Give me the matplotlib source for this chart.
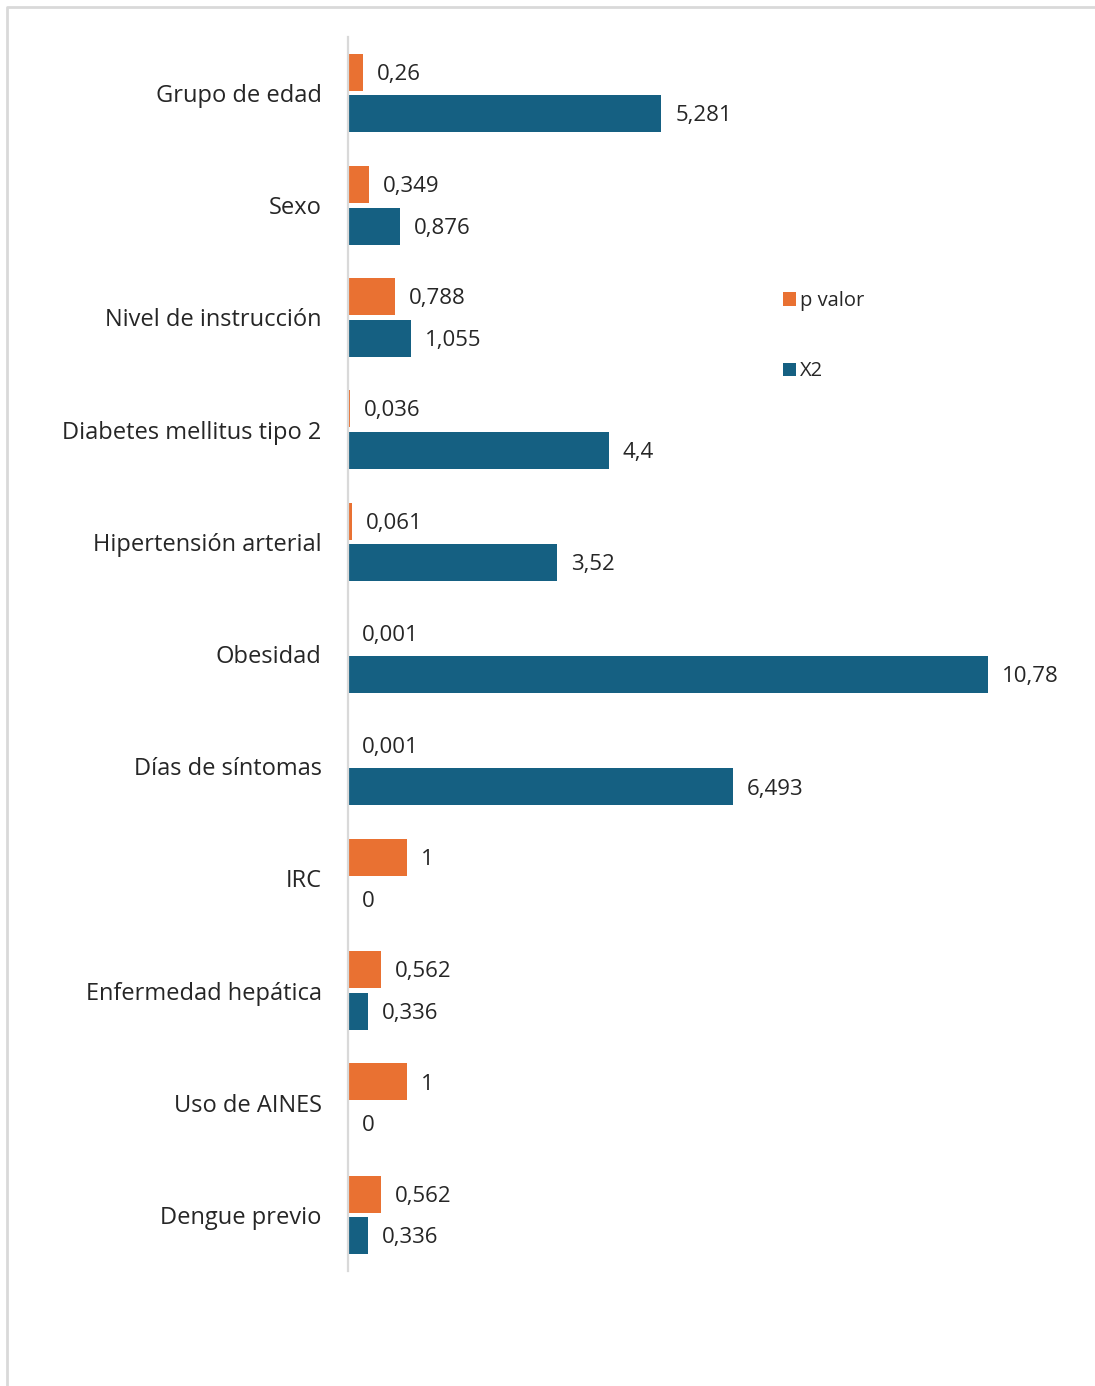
import matplotlib.pyplot as plt
from matplotlib.lines import Line2D

categories = ['Grupo de edad', 'Sexo', 'Nivel de instrucción', 'Diabetes mellitus tipo 2',
              'Hipertensión arterial', 'Obesidad', 'Días de síntomas', 'IRC',
              'Enfermedad hepática', 'Uso de AINES', 'Dengue previo']
p_valor = [0.26, 0.349, 0.788, 0.036, 0.061, 0.001, 0.001, 1, 0.562, 1, 0.562]
x2 = [5.281, 0.876, 1.055, 4.4, 3.52, 10.78, 6.493, 0, 0.336, 0, 0.336]

ORANGE = '#E97132'
BLUE = '#156082'
TXT = '#262626'

plt.rcParams['font.family'] = ['Open Sans', 'DejaVu Sans']

W, H = 1095, 1386
fig = plt.figure(figsize=(W / 100, H / 100), dpi=100)
ax = fig.add_axes([348 / W, 1 - 1271 / H, 712 / W, (1271 - 37) / H])

ypos = list(range(len(categories)))
off = 0.185
hb = 0.33
b1 = ax.barh([y - off for y in ypos], p_valor, height=hb, color=ORANGE, label='p valor')
b2 = ax.barh([y + off for y in ypos], x2, height=hb, color=BLUE, label='X2')

def fmt(v):
    return f'{v:g}'.replace('.', ',')

for bars, vals in ((b1, p_valor), (b2, x2)):
    for rect, v in zip(bars, vals):
        ax.annotate(fmt(v), (rect.get_width(), rect.get_y() + rect.get_height() / 2),
                    xytext=(10, -1.5), textcoords='offset points', va='center', ha='left',
                    fontsize=16, color=TXT)

ax.set_xlim(0, 12)
ax.set_ylim(len(categories) - 0.5, -0.5)
ax.set_yticks(ypos)
ax.set_yticklabels(categories, fontsize=17, color=TXT)
ax.tick_params(axis='y', length=0, pad=19)
ax.set_xticks([])
for s in ('top', 'right', 'bottom'):
    ax.spines[s].set_visible(False)
ax.spines['left'].set_color('#D9D9D9')
ax.spines['left'].set_linewidth(1.6)

ax.legend(loc='upper left', bbox_to_anchor=(773 / W, 1 - 281 / H), bbox_transform=fig.transFigure,
          frameon=False, fontsize=14.5, handlelength=0.65, handleheight=0.65, handletextpad=0.2,
          labelspacing=2.5, borderpad=0, labelcolor=TXT)

# light border around the chart area
fig.add_artist(Line2D([7 / W, 7 / W, 1], [0, 1 - 7 / H, 1 - 7 / H], transform=fig.transFigure,
                      color='#D9D9D9', lw=2))

fig.savefig('out.png', dpi=100)
